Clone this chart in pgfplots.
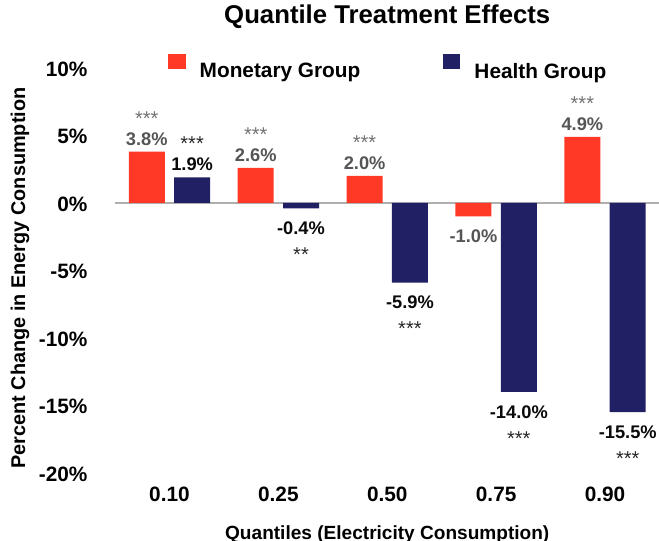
\documentclass[border=0pt]{standalone}
\usepackage{pgfplots}
\pgfplotsset{compat=1.18}
\usepackage{fontspec}
\setmainfont{Liberation Sans}
\definecolor{monred}{RGB}{255,57,38}
\definecolor{hnavy}{RGB}{34,32,100}
\definecolor{mlab}{RGB}{85,85,85}
\definecolor{mstar}{RGB}{115,115,115}
\definecolor{hlab}{RGB}{10,10,10}
\definecolor{hstar}{RGB}{40,40,40}
\definecolor{zline}{RGB}{175,175,175}
\newcommand\starfont{\fontsize{15}{18}\selectfont\mdseries}
\newcommand\mup[2]{{\starfont\color{mstar}#1}\\[-1.5pt]#2}
\newcommand\hup[2]{{\starfont\color{hstar}#1}\\[-1.5pt]#2}
\newcommand\hdn[2]{#1\\[4pt]{\starfont\color{hstar}#2}}
\newcommand\signanchor{south}
\newcommand\signshift{0pt}
\begin{document}
\begin{tikzpicture}
\useasboundingbox (0,0) rectangle (494.25pt,405.75pt);
\begin{axis}[
  at={(86.25pt,51pt)}, anchor=south west,
  scale only axis, width=408.375pt, height=303.75pt,
  ybar, bar width=27pt,
  xmin=-0.5, xmax=4.5, ymin=-20, ymax=10,
  axis line style={draw=none},
  major tick length=0pt,
  xtick={0,1,2,3,4},
  xticklabels={0.10,0.25,0.50,0.75,0.90},
  ytick={-20,-15,-10,-5,0,5,10},
  yticklabels={-20\%,-15\%,-10\%,-5\%,0\%,5\%,10\%},
  ticklabel style={font=\fontsize{15.6}{18}\selectfont\bfseries},
  xticklabel style={anchor=base, yshift=-21.75pt},
  yticklabel style={anchor=east, inner sep=0pt, xshift=-20.5pt, yshift=-1pt},
  title={Quantile Treatment Effects},
  title style={font=\fontsize{19.3}{23}\selectfont\bfseries, at={(axis description cs:0.5,1)}, anchor=base, yshift=27pt},
  xlabel={Quantiles (Electricity Consumption)},
  every axis x label/.style={at={(axis description cs:0.5,0)}, anchor=base, yshift=-49.5pt, font=\fontsize{14.3}{17}\selectfont\bfseries},
  ylabel={Percent Change in Energy Consumption},
  every axis y label/.style={at={(axis description cs:-0.1745,0.4815)}, rotate=90, anchor=center, font=\fontsize{14.9}{18}\selectfont\bfseries},
  legend style={at={(axis description cs:0.0973,0.9985)}, anchor=west, draw=none, fill=none, inner sep=0pt,
    legend columns=2, font=\fontsize{15.6}{18}\selectfont\bfseries,
    /tikz/every odd column/.append style={column sep=8.6pt},
    /tikz/every even column/.append style={column sep=60pt}},
  legend image code/.code={\fill[#1] (0pt,1.5pt) rectangle (13pt,12.75pt);},
  nodes near coords,
  point meta=explicit symbolic,
  visualization depends on={rawy \as \rawy},
  every node near coord/.append style={font=\fontsize{13.7}{16.44}\selectfont\bfseries, align=center, inner xsep=0pt, inner ysep=4.5pt},
]
\draw[zline, line width=1pt] (axis cs:-0.52,0) -- (axis cs:4.5,0);
\draw[zline, line width=0.8pt] (axis cs:-0.5,0) ++(0,-3pt) -- ++(0,6pt);
\draw[zline, line width=0.8pt] (axis cs:0.5,0) ++(0,-3pt) -- ++(0,6pt);
\draw[zline, line width=0.8pt] (axis cs:1.5,0) ++(0,-3pt) -- ++(0,6pt);
\draw[zline, line width=0.8pt] (axis cs:2.5,0) ++(0,-3pt) -- ++(0,6pt);
\draw[zline, line width=0.8pt] (axis cs:3.5,0) ++(0,-3pt) -- ++(0,6pt);
\addplot[bar shift=-17pt, fill=monred, draw=none,
  every node near coord/.append style={text=mlab,
    /utils/exec={\pgfmathparse{\rawy<0}\ifnum\pgfmathresult>0 \def\signanchor{north}\def\signshift{-5.25pt}\else\def\signanchor{south}\def\signshift{0pt}\fi},
    anchor=\signanchor, yshift=\signshift}]
  coordinates {
    (0,3.8) [\mup{***}{3.8\%}]
    (1,2.6) [\mup{***}{2.6\%}]
    (2,2.0) [\mup{***}{2.0\%}]
    (3,-1.0) [{-1.0\%}]
    (4,4.9) [\mup{***}{4.9\%}]
  };
\addlegendentry{Monetary Group}
\addplot[bar shift=17pt, fill=hnavy, draw=none,
  every node near coord/.append style={text=hlab,
    /utils/exec={\pgfmathparse{\rawy<0}\ifnum\pgfmathresult>0 \def\signanchor{north}\def\signshift{-5.25pt}\else\def\signanchor{south}\def\signshift{0pt}\fi},
    anchor=\signanchor, yshift=\signshift}]
  coordinates {
    (0,1.9) [\hup{***}{1.9\%}]
    (1,-0.4) [\hdn{-0.4\%}{**}]
    (2,-5.9) [\hdn{-5.9\%}{***}]
    (3,-14.0) [\hdn{-14.0\%}{***}]
    (4,-15.5) [\hdn{-15.5\%}{***}]
  };
\addlegendentry{Health Group}
\end{axis}
\end{tikzpicture}
\end{document}
